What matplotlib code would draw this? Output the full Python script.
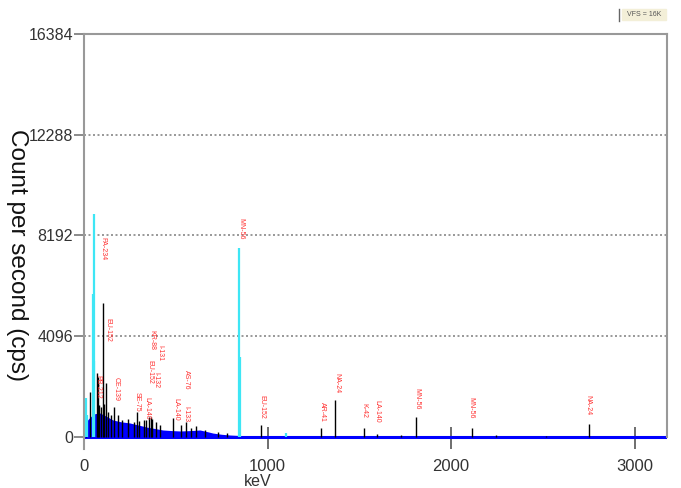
import matplotlib
matplotlib.use('Agg')
import matplotlib.pyplot as plt
from matplotlib.patches import Rectangle

plt.rcParams['font.family'] = ['Liberation Sans', 'DejaVu Sans']

# continuum (keV, cps)
cont_kev = [0, 8, 20, 40, 60, 87, 120, 158, 200, 250, 300, 343, 390, 430, 480, 523,
            580, 632, 670, 703, 750, 796, 850, 888, 1000, 1200, 1500, 1800, 2200,
            2600, 3000, 3177]
cont_cps = [0, 300, 700, 850, 950, 975, 850, 690, 620, 570, 480, 400, 340, 285, 260, 245,
            260, 285, 220, 160, 110, 80, 60, 50, 45, 40, 35, 30, 25, 22, 20, 20]

# black peaks
peak_kev = [10, 32, 72, 77, 84, 93, 102, 111, 122, 130, 145, 166, 186, 209, 239, 270,
            289, 300, 329, 338, 352, 364, 372, 392, 412, 487, 530, 556, 583, 609, 662,
            728, 779, 964, 1294, 1369, 1525, 1596, 1730, 1811, 2113, 2245, 2518, 2754]
peak_cps = [800, 1830, 2600, 2450, 1300, 1200, 5450, 1350, 2200, 1000, 900, 1200, 900,
            700, 750, 600, 1000, 650, 690, 700, 820, 800, 750, 600, 500, 770, 500, 600,
            380, 440, 300, 200, 150, 490, 370, 1500, 370, 120, 80, 810, 370, 80, 50, 530]

# cyan peaks
cyan_kev = [12, 16, 47, 53, 57, 847, 849, 1100]
cyan_cps = [1600, 900, 5800, 3100, 9050, 7700, 3250, 150]

# nuclide labels
nuc_names = ['PA-234', 'EU-152', 'PB-212', 'CE-139', 'SE-75', 'LA-140', 'EU-152', 'KR-88',
             'I-131', 'I-132', 'AS-76', 'LA-140', 'I-133', 'MN-56', 'EU-152', 'AR-41',
             'NA-24', 'K-42', 'LA-140', 'MN-56', 'MN-56', 'NA-24']
nuc_kev = [104, 131, 76, 174, 289, 343, 360, 371, 414, 392, 561, 501, 556, 856, 970,
           1302, 1379, 1526, 1597, 1815, 2109, 2747]
nuc_label_top = [8130, 4840, 2520, 2440, 1830, 1630, 3130, 4350, 3740, 2640, 2720, 1590,
                 1260, 8900, 1710, 1420, 2600, 1380, 1500, 1990, 1630, 1710]

yticks = [0, 4096, 8192, 12288, 16384]
xticks = [0, 1000, 2000, 3000]

fig = plt.figure(figsize=(6.81, 4.88), dpi=100)
ax = fig.add_axes([84 / 681, 1 - 449 / 488, (667 - 84) / 681, (449 - 34) / 488])
ax.set_xlim(0, 3177)
ax.set_ylim(-488, 16384)

for y in yticks[1:-1]:
    ax.axhline(y, color='#888888', lw=1.2, ls=(0, (1.2, 1.5)), zorder=1)

ax.fill_between(cont_kev, 0, cont_cps, color='#0000ff', lw=0, zorder=2)
ax.axhline(0, color='#0000ff', lw=2.2, zorder=2)
ax.vlines(peak_kev, 0, peak_cps, color='black', lw=1.0, zorder=3)
ax.vlines(cyan_kev, 0, cyan_cps, color='#3ee6f5', lw=1.6, zorder=4)

for name, x, y in zip(nuc_names, nuc_kev, nuc_label_top):
    ax.text(x, y, name, rotation=270, ha='center', va='top', color='#ff3030',
            fontsize=5, zorder=5)

for s in ['top', 'right', 'left']:
    ax.spines[s].set_color('#999999')
    ax.spines[s].set_linewidth(1.5)
ax.spines['right'].set_bounds(0, 16384)
ax.spines['bottom'].set_visible(False)

ax.set_yticks(yticks)
ax.set_yticklabels([str(v) for v in yticks])
ax.set_xticks(xticks)
ax.tick_params(axis='y', direction='out', length=7, width=1.2, color='#777777',
               labelsize=11.5, labelcolor='#333333', pad=1)
ax.tick_params(axis='x', direction='in', length=16, width=1.2, color='#555555',
               labelsize=12, labelcolor='#333333', pad=7)

fig.text(17 / 681, 1 - 255 / 488, 'Count per second (cps)', rotation=270,
         ha='center', va='center', fontsize=17.5, color='#111111')
fig.text(258 / 681, 1 - 482 / 488, 'keV', ha='center', va='center', fontsize=11.5,
         color='#333333')

# VFS box
fig.patches.append(Rectangle((622 / 681, 1 - 20 / 488), 44 / 681, 11 / 488,
                             transform=fig.transFigure, color='#f3efd8', zorder=0))
fig.lines.append(plt.Line2D([619 / 681, 619 / 681], [1 - 21 / 488, 1 - 9 / 488],
                            transform=fig.transFigure, color='#666666', lw=1))
fig.text(644 / 681, 1 - 14.5 / 488, 'VFS = 16K', ha='center', va='center',
         fontsize=5, color='#555555')

fig.savefig('out.png', dpi=100)
